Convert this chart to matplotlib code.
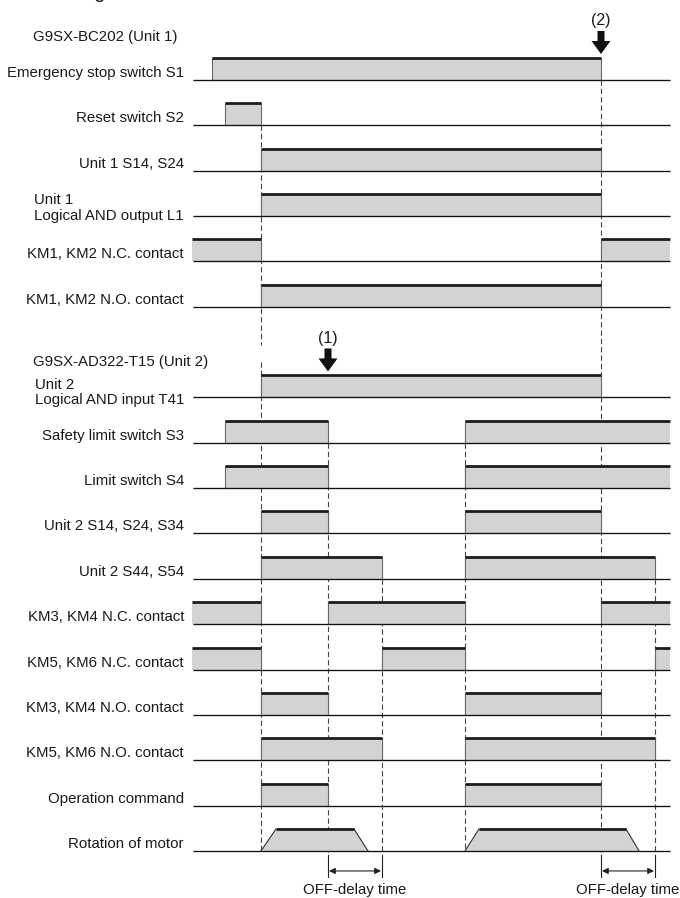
import matplotlib
matplotlib.use("Agg")
import matplotlib.pyplot as plt
import numpy as np

plt.rcParams['font.family'] = ['Liberation Sans', 'DejaVu Sans']
plt.rcParams['lines.scale_dashes'] = False

# ---------------- data ----------------
# time axis (arbitrary units, 0 = start of chart, END = right edge)
T_END = 477
t_s1_on = 19
t_s2_on = 32
t1 = 68      # reset released / units start
t2 = 135     # (1) safety door opened
t3 = 189     # OFF-delay ends (first cycle)
t4 = 272     # door closed again
t5 = 408     # (2) emergency stop
t6 = 462     # OFF-delay ends (second cycle)

title = "Timing chart"
header1 = "G9SX-BC202 (Unit 1)"
header2 = "G9SX-AD322-T15 (Unit 2)"

signal_labels = [
    "Emergency stop switch S1",
    "Reset switch S2",
    "Unit 1 S14, S24",
    "Unit 1\nLogical AND output L1",
    "KM1, KM2 N.C. contact",
    "KM1, KM2 N.O. contact",
    None,
    "Unit 2\nLogical AND input T41",
    "Safety limit switch S3",
    "Limit switch S4",
    "Unit 2 S14, S24, S34",
    "Unit 2 S44, S54",
    "KM3, KM4 N.C. contact",
    "KM5, KM6 N.C. contact",
    "KM3, KM4 N.O. contact",
    "KM5, KM6 N.O. contact",
    "Operation command",
    "Rotation of motor",
]

signal_on = [
    [(t_s1_on, t5)],
    [(t_s2_on, t1)],
    [(t1, t5)],
    [(t1, t5)],
    [(-1, t1), (t5, T_END)],
    [(t1, t5)],
    [],
    [(t1, t5)],
    [(t_s2_on, t2), (t4, T_END)],
    [(t_s2_on, t2), (t4, T_END)],
    [(t1, t2), (t4, t5)],
    [(t1, t3), (t4, t6)],
    [(-1, t1), (t2, t4), (t5, T_END)],
    [(-1, t1), (t3, t4), (t6, T_END)],
    [(t1, t2), (t4, t5)],
    [(t1, t3), (t4, t6)],
    [(t1, t2), (t4, t5)],
    [],
]

# motor rotation: (start, reach speed, begin decel, stop)
motor_ramps = [(t1, 83, 161, 175), (t4, 286, 433, 446)]

# dashed guide lines: (time, first row, last row)
guides = [(t1, 1, 17), (t2, 8, 17.03), (t3, 11, 17.03), (t4, 8, 17), (t5, 0, 17.03), (t6, 11, 17.03)]
offdelay = [(t2, t3), (t5, t6)]
pointers = [("(1)", t2, 7), ("(2)", t5, 0)]

# ---------------- layout ----------------
W, H = 680, 898
X0 = 193          # pixel x of time 0
Y0 = 80           # pixel y of row 0 baseline
ROW = 45.35       # pixels per row
PULSE = 22 / ROW  # pulse height in rows
PX = 1 / ROW      # one pixel in row units

FILL = '#d1d3d4'
EDGE = '#6a6a6a'
TOP = '#1c1c1c'
FS = 10.8

fig = plt.figure(figsize=(W / 100, H / 100), dpi=100)
ax = fig.add_axes([0, 0, 1, 1])
ax.set_xlim(-X0, W - X0)
ax.set_ylim((H - Y0) / ROW, -Y0 / ROW)
ax.axis('off')


def ypx(p):
    """pixel row -> data row units"""
    return (p - Y0) / ROW


n_rows = len(signal_labels)
for r in range(n_rows):
    lab = signal_labels[r]
    if lab is None:
        continue
    # baseline
    ax.plot([0, T_END], [r, r], color='#111111', lw=0.95, solid_capstyle='butt', zorder=3)
    for a, b in signal_on[r]:
        top = r - PULSE
        ax.fill_between([a, b], [r, r], [top, top], color=FILL, lw=0, zorder=1)
        ax.plot([a, b], [top, top], color=TOP, lw=2.0, solid_capstyle='butt', zorder=4)
        if a > 0:
            ax.plot([a, a], [r, top], color=EDGE, lw=0.8, zorder=2)
        if b < T_END:
            ax.plot([b, b], [r, top], color=EDGE, lw=0.8, zorder=2)
    # labels
    if "\n" in lab:
        off = 8 if r < 6 else 5
        ax.text(-9, r - off * PX, lab, ha='right', ma='left', va='center',
                fontsize=FS, linespacing=1.1, color='#1a1a1a')
    else:
        ax.text(-9, r - 3 * PX, lab, ha='right', va='baseline',
                fontsize=FS, color='#1a1a1a')

# motor rotation trapezoids
r_m = n_rows - 1
for s, a, b, e in motor_ramps:
    top = r_m - PULSE
    ax.fill([s, a, b, e], [r_m, top, top, r_m], color=FILL, lw=0, zorder=1)
    ax.plot([s, a], [r_m, top], color='#333333', lw=0.8, zorder=2)
    ax.plot([b, e], [top, r_m], color='#333333', lw=0.8, zorder=2)
    ax.plot([a, b], [top, top], color=TOP, lw=2.0, solid_capstyle='butt', zorder=4)

# title (cut off at the top edge, as in the reference) and headers
ax.text(-X0 + 46, ypx(-2), title, ha='left', va='baseline', fontsize=14.4, color='#1a1a1a')
ax.text(-X0 + 33, ypx(37), header1, ha='left', va='center', fontsize=FS, color='#1a1a1a')
ax.text(-X0 + 33, ypx(362), header2, ha='left', va='center', fontsize=FS, color='#1a1a1a')

# dashed guides
DASH = (0, (3.8, 2.2))
for t, ra, rb in guides:
    if t == t1:
        ax.plot([t, t], [ra, ypx(345)], color='#444444', lw=0.8, ls=DASH, zorder=0)
        ax.plot([t, t], [ypx(362), rb], color='#444444', lw=0.8, ls=DASH, zorder=0)
    else:
        ax.plot([t, t], [ra, rb], color='#444444', lw=0.8, ls=DASH, zorder=0)

# OFF-delay markers
for a, b in offdelay:
    y_top = r_m + 4 * PX
    y_bot = r_m + 26 * PX
    y_arr = r_m + 20 * PX
    for t in (a, b):
        ax.plot([t, t], [y_top, y_bot], color='#222222', lw=0.8)
    ax.annotate('', xy=(a + 1, y_arr), xytext=(b - 1, y_arr),
                arrowprops=dict(arrowstyle='<|-|>', color='#222222', lw=0.8,
                                mutation_scale=9, shrinkA=0, shrinkB=0))
    ax.text((a + b) / 2, r_m + 39 * PX, "OFF-delay time", ha='center', va='center',
            fontsize=FS, color='#1a1a1a')

# pointer arrows
for txt, t, r in pointers:
    tip = r - PULSE - 4 * PX
    head0 = tip - 13 * PX
    tail = tip - 23 * PX
    xs = [t - 3.5, t + 3.5, t + 3.5, t + 9.5, t, t - 9.5, t - 3.5]
    ys = [tail, tail, head0, head0, tip, head0, head0]
    ax.fill(xs, ys, color='#111111', lw=0, zorder=5)
    ax.text(t, tail - 10 * PX, txt, ha='center', va='center', fontsize=11.5, color='#1a1a1a')

fig.savefig('out.png', dpi=100)
